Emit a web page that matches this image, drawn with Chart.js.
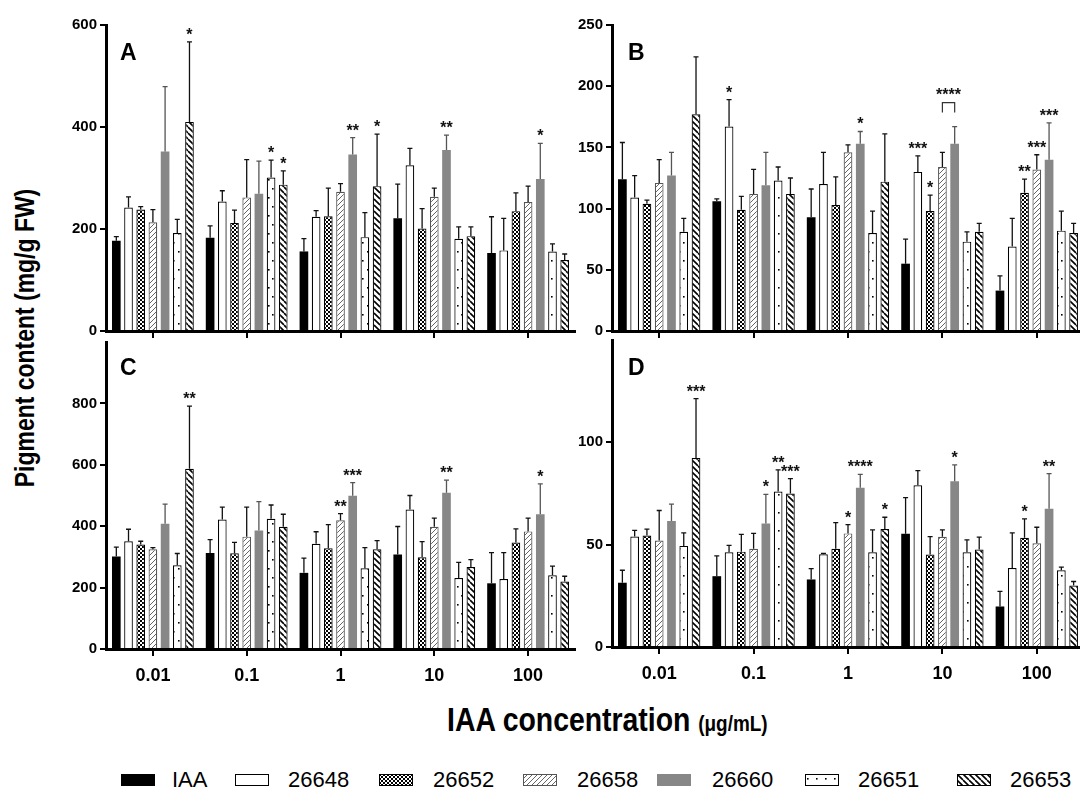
<!DOCTYPE html>
<html>
<head>
<meta charset="utf-8">
<script src="https://cdn.jsdelivr.net/npm/chart.js@4.4.0/dist/chart.umd.min.js"></script>
<style>
html, body { margin: 0; padding: 0; background: #fff; overflow: hidden; }
#fig { position: relative; width: 1080px; height: 793px; overflow: hidden; font-family: "Liberation Sans", Arial, sans-serif; }
#fig canvas { position: absolute; }
.txt { position: absolute; white-space: nowrap; line-height: 1; color: #000; }
</style>
</head>
<body>
<div id="fig">
  <canvas id="cA" width="530" height="330" style="left:50px;top:13px"></canvas>
  <canvas id="cB" width="530" height="330" style="left:560px;top:13px"></canvas>
  <canvas id="cC" width="530" height="360" style="left:50px;top:330px"></canvas>
  <canvas id="cD" width="530" height="360" style="left:560px;top:328px"></canvas>
</div>
<script>
// categories and series
var groups  = ['0.01', '0.1', '1', '10', '100'];
var strains = ['IAA', '26648', '26652', '26658', '26660', '26651', '26653'];

// panel A  (one row per strain, one column per IAA concentration)
var meanA = [
  [177, 183, 156, 221, 153],
  [242, 254, 224, 325, 158],
  [238, 212, 225, 201, 235],
  [213, 262, 273, 263, 253],
  [352, 269, 346, 355, 298],
  [192, 301, 184, 181, 156],
  [410, 287, 284, 186, 139]
];
var sdA = [
  [8, 23, 25, 67, 71],
  [21, 21, 12, 33, 63],
  [6, 25, 55, 39, 36],
  [25, 74, 16, 17, 31],
  [127, 64, 33, 29, 70],
  [27, 34, 48, 23, 15],
  [157, 27, 102, 18, 12]
];
// [strain, group, label]
var sigA = [[6,0,'*'], [5,1,'*'], [6,1,'*'], [4,2,'**'], [6,2,'*'], [4,3,'**'], [4,4,'*']];

// panel B
var meanB = [
  [124, 106, 93, 55, 33],
  [109, 167, 120, 130, 69],
  [104, 99, 103, 98, 113],
  [121, 112, 146, 134, 132],
  [127, 119, 153, 153, 140],
  [81, 123, 80, 73, 82],
  [177, 112, 122, 81, 80]
];
var sdB = [
  [30, 2, 23, 20, 12],
  [18, 22, 26, 13, 23],
  [3, 11, 23, 13, 11],
  [19, 20, 6, 12, 12],
  [19, 27, 10, 14, 30],
  [11, 11, 18, 8, 16],
  [47, 13, 39, 7, 8]
];
var sigB = [[1,1,'*'], [4,2,'*'], [1,3,'***'], [2,3,'*'], [2,4,'**'], [3,4,'***'], [4,4,'***']];
// [group, strain from, strain to, label]
var bracketB = [[3, 3, 4, '****']];

// panel C
var meanC = [
  [301, 313, 248, 308, 214],
  [351, 422, 343, 454, 228],
  [340, 312, 328, 299, 347],
  [325, 366, 419, 398, 383],
  [408, 386, 499, 509, 439],
  [273, 424, 263, 231, 240],
  [587, 398, 325, 267, 220]
];
var sdC = [
  [31, 43, 48, 91, 100],
  [39, 40, 39, 46, 86],
  [11, 35, 77, 51, 44],
  [5, 96, 22, 28, 43],
  [64, 94, 43, 41, 99],
  [38, 45, 67, 51, 30],
  [204, 41, 28, 24, 17]
];
var sigC = [[6,0,'**'], [3,2,'**'], [4,2,'***'], [4,3,'**'], [4,4,'*']];

// panel D
var meanD = [
  [31.4, 34.6, 33, 55.3, 19.8],
  [54, 46.3, 45.3, 79, 38.6],
  [54.5, 46.6, 48, 45.2, 53.4],
  [52, 48, 55.5, 53.9, 50.7],
  [61.6, 60.3, 77.8, 81, 67.5],
  [49.4, 76, 46.3, 46.3, 37.5],
  [92.3, 75, 57.6, 47.6, 30]
];
var sdD = [
  [6.1, 9.9, 5.3, 17.7, 7.4],
  [3, 3.4, 0.4, 7.2, 17.2],
  [3.1, 8.4, 12.8, 8.7, 9.2],
  [14.7, 7.5, 4.3, 3.3, 7.8],
  [8.2, 14.3, 6.5, 8, 17.2],
  [6.4, 10.5, 10.9, 6, 1.5],
  [29.1, 7.3, 5.8, 6.1, 2]
];
var sigD = [[6,0,'***'], [4,1,'*'], [5,1,'**'], [6,1,'***'], [3,2,'*'], [4,2,'****'], [6,2,'*'], [4,3,'*'], [2,4,'*'], [4,4,'**']];

// ---- styles ----
var GRAY = '#878787';
var fillKinds  = ['#000', '#fff', 'check', 'fwd', GRAY, 'dots', 'back'];
var borderCols = ['#000', '#000', '#000', '#555', GRAY, '#000', '#000'];
var borderWs   = [0, 1.2, 1.2, 1.2, 0, 1.2, 1.2];
var errCols    = ['#111', '#111', '#111', '#111', '#555', '#111', '#111'];

function makeFill(ctx, kind) {
  if (kind.charAt(0) === '#') return kind;
  var c = document.createElement('canvas');
  var g = c.getContext('2d');
  var n;
  if (kind === 'check') {
    c.width = 4; c.height = 4;
    g.fillStyle = '#fff'; g.fillRect(0, 0, 4, 4);
    g.fillStyle = '#000'; g.fillRect(0, 0, 2, 2); g.fillRect(2, 2, 2, 2);
  } else if (kind === 'fwd' || kind === 'back') {
    n = kind === 'fwd' ? 5 : 6;
    c.width = n; c.height = n;
    g.fillStyle = '#fff'; g.fillRect(0, 0, n, n);
    g.strokeStyle = kind === 'fwd' ? '#666' : '#000';
    g.lineWidth = kind === 'fwd' ? 1 : 1.6;
    g.beginPath();
    [-n, 0, n].forEach(function(k) {
      if (kind === 'fwd') { g.moveTo(k, n); g.lineTo(k + n, 0); }
      else { g.moveTo(k, 0); g.lineTo(k + n, n); }
    });
    g.stroke();
  } else if (kind === 'dots') {
    c.width = 9; c.height = 18;
    g.fillStyle = '#fff'; g.fillRect(0, 0, 9, 18);
    g.fillStyle = '#000';
    g.fillRect(2, 4, 1.6, 1.6);
    g.fillRect(6, 13, 1.6, 1.6);
  }
  return ctx.createPattern(c, 'repeat');
}

// error bars, significance stars and bracket
var barExtras = {
  id: 'barExtras',
  afterDatasetsDraw: function(chart, args, opts) {
    var ctx = chart.ctx, ys = chart.scales.y;
    function topOf(s, g) {
      var ds = chart.data.datasets[s];
      return ys.getPixelForValue(ds.data[g] + ds.sd[g]);
    }
    ctx.save();
    chart.data.datasets.forEach(function(ds, i) {
      chart.getDatasetMeta(i).data.forEach(function(bar, j) {
        var t = topOf(i, j);
        ctx.strokeStyle = ds.errColor;
        ctx.lineWidth = 1.3;
        ctx.beginPath();
        ctx.moveTo(bar.x, bar.y); ctx.lineTo(bar.x, t);
        ctx.moveTo(bar.x - 2.5, t); ctx.lineTo(bar.x + 2.5, t);
        ctx.stroke();
      });
    });
    ctx.font = 'bold 16px "Liberation Sans", Arial, sans-serif';
    ctx.fillStyle = '#111';
    ctx.textAlign = 'center';
    ctx.textBaseline = 'alphabetic';
    (opts.sig || []).forEach(function(s) {
      var bar = chart.getDatasetMeta(s[0]).data[s[1]];
      ctx.fillText(s[2], bar.x, topOf(s[0], s[1]) - 2);
    });
    (opts.brackets || []).forEach(function(b) {
      var b1 = chart.getDatasetMeta(b[1]).data[b[0]];
      var b2 = chart.getDatasetMeta(b[2]).data[b[0]];
      var ly = Math.min(topOf(b[1], b[0]), topOf(b[2], b[0])) - 24;
      ctx.strokeStyle = '#333';
      ctx.lineWidth = 1.2;
      ctx.beginPath();
      ctx.moveTo(b1.x, ly + 10); ctx.lineTo(b1.x, ly); ctx.lineTo(b2.x, ly); ctx.lineTo(b2.x, ly + 10);
      ctx.stroke();
      ctx.fillText(b[3], (b1.x + b2.x) / 2, ly - 3);
    });
    ctx.restore();
  }
};

function makeChart(id, means, sds, p) {
  var canvas = document.getElementById(id);
  var ctx = canvas.getContext('2d');
  var hideTop = function(c) { return c.tick && c.tick.value === p.max && p.hideTop ? 'rgba(0,0,0,0)' : '#000'; };
  return new Chart(ctx, {
    type: 'bar',
    data: {
      labels: groups,
      datasets: strains.map(function(name, i) {
        return {
          label: name,
          data: means[i],
          sd: sds[i],
          errColor: errCols[i],
          backgroundColor: makeFill(ctx, fillKinds[i]),
          borderColor: borderCols[i],
          borderWidth: borderWs[i],
          barPercentage: 0.71,
          categoryPercentage: 0.91
        };
      })
    },
    options: {
      responsive: false,
      animation: false,
      devicePixelRatio: 1,
      layout: { padding: { top: p.padTop, right: p.padRight, left: 0, bottom: 0 } },
      plugins: {
        legend: { display: false },
        tooltip: { enabled: false },
        barExtras: { sig: p.sig, brackets: p.brackets }
      },
      scales: {
        x: {
          offset: true,
          grid: { offset: false, drawOnChartArea: false, drawTicks: true, tickLength: 7, color: '#000', lineWidth: 2 },
          border: { color: '#000', width: 3 },
          ticks: {
            display: p.showX,
            color: '#000',
            padding: 9,
            maxRotation: 0,
            font: { family: '"Liberation Sans Narrow", "Liberation Sans", Arial, sans-serif', size: 18, weight: 'bold' }
          },
          afterFit: function(s) { s.height = p.xH; }
        },
        y: {
          min: 0,
          max: p.max,
          grid: { drawOnChartArea: false, drawTicks: true, tickLength: 6, color: hideTop, lineWidth: 2 },
          border: { color: '#000', width: 3 },
          ticks: {
            stepSize: p.step,
            color: '#000',
            padding: 3,
            font: { family: '"Liberation Sans", Arial, sans-serif', size: 15, weight: 'bold' },
            callback: function(v) { return (p.hideTop && v === p.max) ? '' : v; }
          },
          afterFit: function(s) { s.width = p.yW; }
        }
      }
    },
    plugins: [barExtras]
  });
}

makeChart('cA', meanA, sdA, { max: 600, step: 200, padTop: 10, padRight: 5, yW: 56, xH: 11, showX: false, sig: sigA });
makeChart('cB', meanB, sdB, { max: 250, step: 50, padTop: 10, padRight: 6, yW: 52, xH: 10, showX: false, sig: sigB, brackets: bracketB });
makeChart('cC', meanC, sdC, { max: 1000, step: 200, hideTop: true, padTop: 10, padRight: 5, yW: 56, xH: 41, showX: true, sig: sigC });
makeChart('cD', meanD, sdD, { max: 150, step: 50, hideTop: true, padTop: 10.5, padRight: 6, yW: 52, xH: 41, showX: true, sig: sigD });

// ---- text: panel letters, axis titles, legend ----
var fig = document.getElementById('fig');
function addText(str, x, baseline, size, bold, extra) {
  var d = document.createElement('div');
  d.className = 'txt';
  d.textContent = str;
  d.style.left = x + 'px';
  d.style.top = (baseline - 0.8465 * size) + 'px';
  d.style.fontSize = size + 'px';
  d.style.fontWeight = bold ? 'bold' : 'normal';
  if (extra) for (var k in extra) d.style[k] = extra[k];
  fig.appendChild(d);
  return d;
}
addText('A', 120, 60, 23, true);
addText('B', 628, 60, 23, true);
addText('C', 120, 375, 23, true);
addText('D', 628, 375, 23, true);

var yTitle = addText('Pigment content (mg/g FW)', 25, 0, 28, true, {
  top: '338px', transform: 'translate(-50%,-50%) rotate(-90deg) scaleX(0.82)'
});

var xTitle = addText('', 447, 731, 33, true, { transform: 'scaleX(0.86)', transformOrigin: 'left' });
xTitle.innerHTML = 'IAA concentration <span style="font-size:22px">(\u03bcg/mL)</span>';

// legend
var legendPos = [[121, 172], [235, 288], [379, 433], [523, 577], [657, 712], [805, 858], [957, 1010]];
strains.forEach(function(name, i) {
  var sw = document.createElement('canvas');
  sw.width = 34; sw.height = 12;
  sw.style.left = legendPos[i][0] + 'px';
  sw.style.top = '774px';
  fig.appendChild(sw);
  var g = sw.getContext('2d');
  g.fillStyle = makeFill(g, fillKinds[i]);
  g.fillRect(0, 0, 34, 12);
  if (borderWs[i] > 0) {
    g.strokeStyle = borderCols[i];
    g.lineWidth = 1;
    g.strokeRect(0.5, 0.5, 33, 11);
  }
  addText(name, legendPos[i][1], 788, 22, false);
});
</script>
</body>
</html>
